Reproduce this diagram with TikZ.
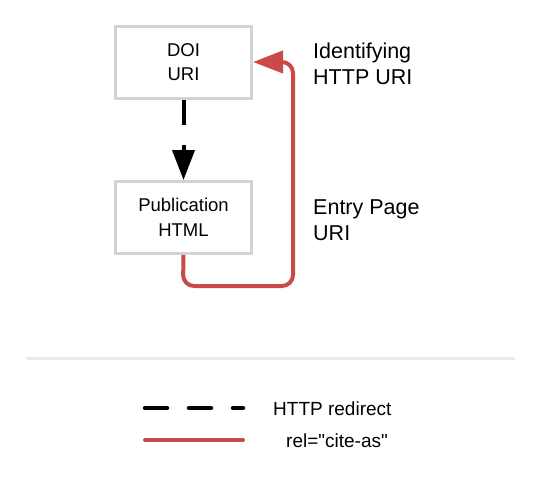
\documentclass[tikz,border=0pt]{standalone}
\usepackage{fontspec}
\setmainfont[Ligatures=TeXOff]{Liberation Sans}
\usetikzlibrary{arrows.meta}
\definecolor{boxgray}{HTML}{D3D3D3}
\definecolor{citered}{HTML}{C94A48}
\definecolor{rulegray}{HTML}{EBEBEB}
\begin{document}
\begin{tikzpicture}[x=1pt,y=-1pt,
  box/.style={draw=boxgray, line width=3pt, fill=white, minimum width=136pt, minimum height=72pt,
    align=center, font=\fontsize{18.5}{24.5}\selectfont, inner sep=0pt},
  sidelabel/.style={anchor=west, align=left, font=\fontsize{21.5}{26}\selectfont, inner sep=0pt},
  legendtext/.style={anchor=west, font=\fontsize{19}{22}\selectfont, inner sep=0pt},
  redirect/.style={line width=4pt, dash pattern=on 25pt off 20pt},
  citeas/.style={draw=citered, line width=4pt},
  bigtip/.style={-{Triangle[length=30pt,width=22pt]}}
]
\useasboundingbox (0,0) rectangle (540,480);

% main boxes
\node[box] (doi) at (183.5,62) {DOI\\URI};
\node[box] (pub) at (183.5,217.5) {Publication\\HTML};

% side annotations
\node[sidelabel] (ident) at (313,64) {Identifying\\HTTP URI};
\node[sidelabel] (entry) at (313,220) {Entry Page\\URI};

% redirect from DOI to publication page
\draw[redirect, bigtip] (doi.south) -- (pub.north);

% cite-as link back to the identifying URI
\coordinate (loopbottom) at (183,286);
\coordinate (loopright) at (293,286);
\coordinate (looptop) at (293,62);
\draw[citeas, color=citered, bigtip, rounded corners=11pt]
  (pub.south) -- (loopbottom) -- (loopright) -- (looptop) -- (doi.east);

% separator
\coordinate (sepL) at (27,358);
\coordinate (sepR) at (514,358);
\draw[rulegray, line width=3pt, line cap=round] (sepL) -- (sepR);

% legend
\coordinate (l1a) at (145,408);
\coordinate (l1b) at (243,408);
\coordinate (l2a) at (145,440);
\coordinate (l2b) at (243,440);
\draw[line width=4.5pt, line cap=round, dash pattern=on 22pt off 22pt] (l1a) -- (l1b);
\draw[citeas, line cap=round] (l2a) -- (l2b);
\node[legendtext] (lt1) at (273,409) {HTTP redirect};
\node[legendtext] (lt2) at (286,441) {rel="cite-as"};
\end{tikzpicture}
\end{document}
